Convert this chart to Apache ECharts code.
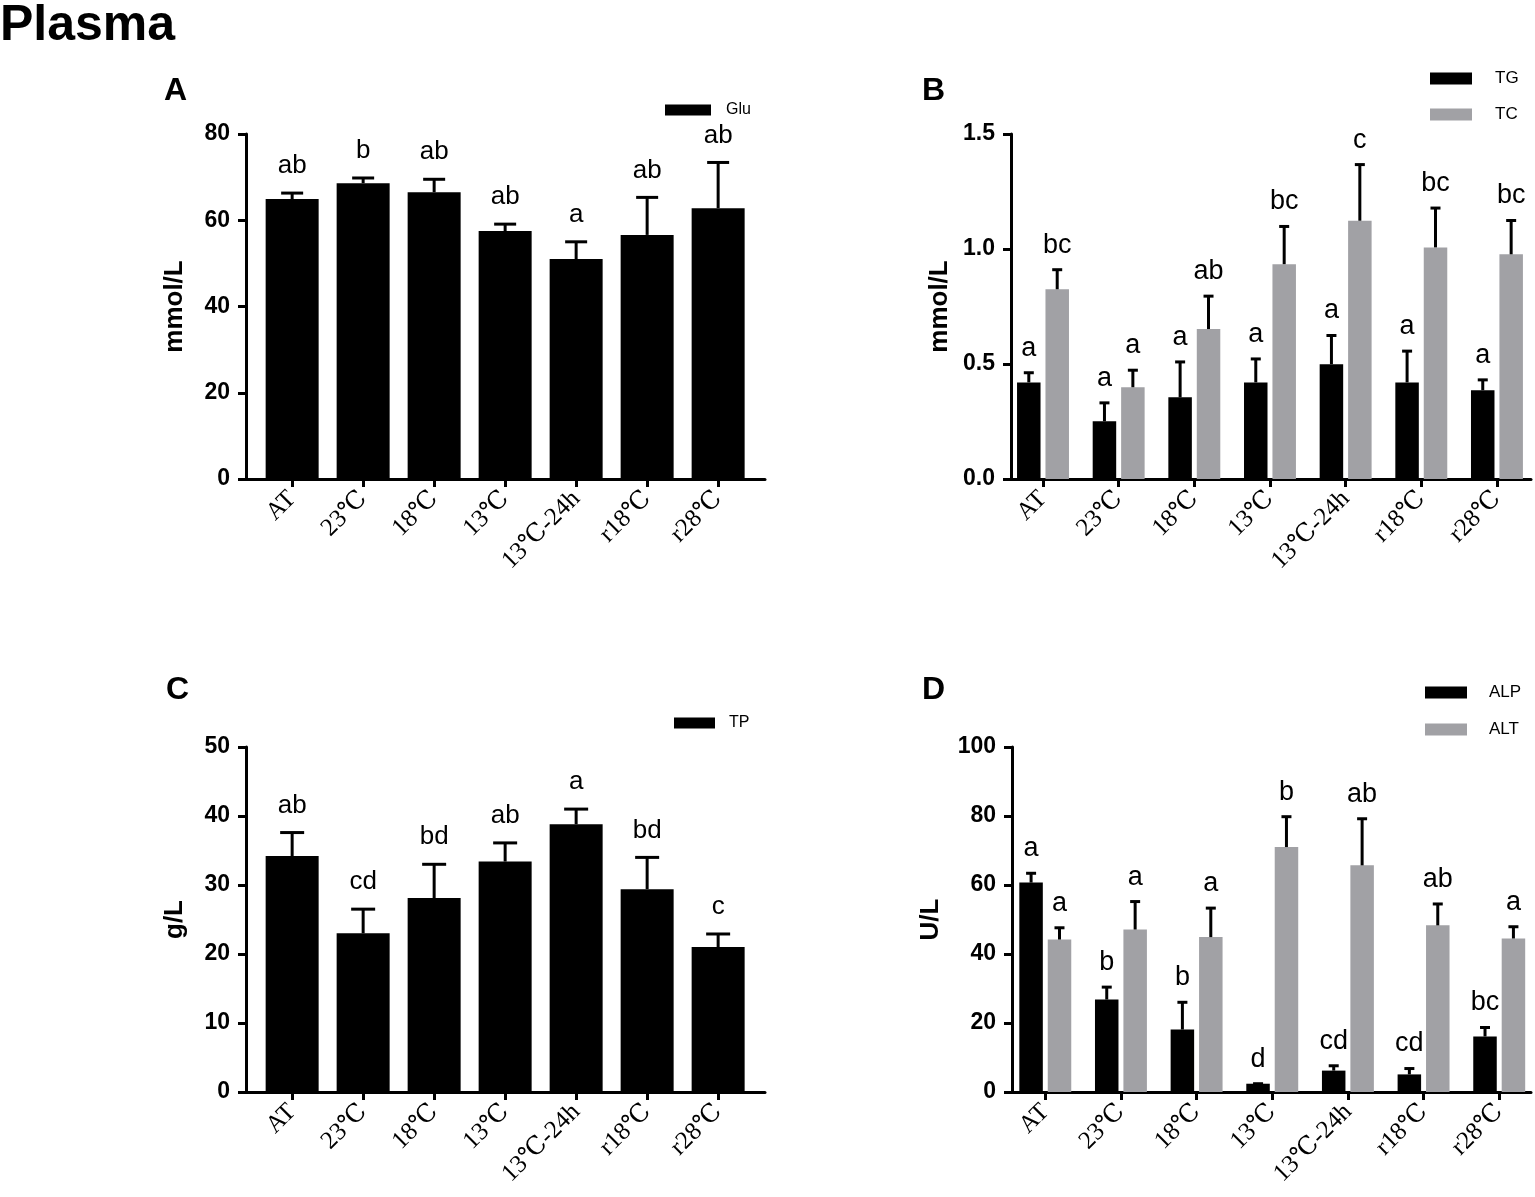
<!DOCTYPE html>
<html>
<head>
<meta charset="utf-8">
<script src="https://cdn.jsdelivr.net/npm/echarts@6/dist/echarts.min.js"></script>
<style>
html,body{margin:0;padding:0;background:#fff;}
#chart{width:1535px;height:1197px;}
</style>
</head>
<body>
<div id="chart"></div>
<script>
// ---- data ----
const categories = ['AT', '23℃', '18℃', '13℃', '13℃-24h', 'r18℃', 'r28℃'];

const gluMean = [64.9, 68.6, 66.5, 57.5, 51.0, 56.6, 62.8];
const gluSD   = [1.4, 1.2, 3.0, 1.6, 4.0, 8.7, 10.6];
const gluLabels = ['ab', 'b', 'ab', 'ab', 'a', 'ab', 'ab'];

const tgMean = [0.420, 0.251, 0.355, 0.420, 0.499, 0.420, 0.386];
const tgSD   = [0.042, 0.080, 0.154, 0.102, 0.125, 0.136, 0.045];
const tgLabels = ['a', 'a', 'a', 'a', 'a', 'a', 'a'];

const tcMean = [0.825, 0.399, 0.652, 0.934, 1.123, 1.007, 0.977];
const tcSD   = [0.085, 0.074, 0.143, 0.164, 0.244, 0.171, 0.147];
const tcLabels = ['bc', 'a', 'ab', 'bc', 'c', 'bc', 'bc'];

const tpMean = [34.2, 23.0, 28.1, 33.4, 38.8, 29.4, 21.0];
const tpSD   = [3.4, 3.5, 4.9, 2.7, 2.2, 4.6, 1.9];
const tpLabels = ['ab', 'cd', 'bd', 'ab', 'a', 'bd', 'c'];

const alpMean = [60.7, 26.8, 18.1, 2.4, 6.2, 5.1, 16.1];
const alpSD   = [2.7, 3.6, 7.9, 0.0, 1.4, 1.7, 2.6];
const alpLabels = ['a', 'b', 'b', 'd', 'cd', 'cd', 'bc'];

const altMean = [44.2, 47.1, 44.9, 71.0, 65.7, 48.3, 44.5];
const altSD   = [3.4, 8.1, 8.4, 8.8, 13.5, 6.2, 3.4];
const altLabels = ['a', 'a', 'a', 'b', 'ab', 'ab', 'a'];

// ---- styling ----
const SANS = 'Liberation Sans, Arial, Helvetica, sans-serif';
const SERIF = 'Liberation Serif, Times New Roman, DejaVu Serif, serif';
const GREY = '#a1a1a5';
const catIdx = categories.map((_, i) => i);

function xAxis(gridIndex, min, max) {
  return {
    type: 'value', gridIndex, min, max,
    axisLine: {show: true, onZero: false, lineStyle: {color: '#000', width: 3}},
    axisTick: {show: true, customValues: catIdx, length: 8, lineStyle: {color: '#000', width: 3}},
    axisLabel: {
      show: true, customValues: catIdx, formatter: v => categories[Math.round(v)],
      rotate: 45, margin: 16, fontFamily: SERIF, fontSize: 25, color: '#000'
    },
    splitLine: {show: false}
  };
}
function yAxis(gridIndex, max, interval, name, nameGap, digits) {
  return {
    type: 'value', gridIndex, min: 0, max, interval,
    name, nameLocation: 'middle', nameGap,
    nameTextStyle: {fontFamily: SANS, fontSize: 26, fontWeight: 'bold', color: '#000'},
    axisLine: {show: true, onZero: false, lineStyle: {color: '#000', width: 3}},
    axisTick: {show: true, length: 8, lineStyle: {color: '#000', width: 3}},
    axisLabel: {
      fontFamily: SANS, fontSize: 23, fontWeight: 'bold', color: '#000', margin: 16,
      formatter: v => v.toFixed(digits)
    },
    splitLine: {show: false}
  };
}
function barSeries(name, axis, means, color, barWidth) {
  return {
    type: 'bar', name, xAxisIndex: axis, yAxisIndex: axis,
    data: means.map((m, i) => [i, m]),
    barWidth, barGap: '21%',
    itemStyle: {color},
    emphasis: {disabled: true},
    z: 2
  };
}
function errSeries(name, axis, means, sds, labels, offset, capW, gap, fontSize) {
  return {
    type: 'custom', name, xAxisIndex: axis, yAxisIndex: axis,
    data: means.map((m, i) => [i, m, m + sds[i]]),
    z: 5, silent: true,
    renderItem: (params, api) => {
      const x = api.value(0), m = api.value(1), e = api.value(2);
      const p0 = api.coord([x, m]);
      const p1 = api.coord([x, e]);
      const cx = p0[0] + offset;
      return {
        type: 'group',
        children: [
          {type: 'line', shape: {x1: cx, y1: p0[1], x2: cx, y2: p1[1]}, style: {stroke: '#000', lineWidth: 3}},
          {type: 'line', shape: {x1: cx - capW / 2, y1: p1[1], x2: cx + capW / 2, y2: p1[1]}, style: {stroke: '#000', lineWidth: 3}},
          {type: 'text', x: cx, y: p1[1] - gap,
           style: {text: labels[params.dataIndex], fontFamily: SANS, fontSize, fill: '#000',
                   align: 'center', verticalAlign: 'bottom'}}
        ]
      };
    }
  };
}
function legend(names, left, top, w, h, gapY, fontSize, padLeft) {
  return {
    data: names, left, top, orient: 'vertical', padding: 0,
    itemWidth: w, itemHeight: h, itemGap: gapY, icon: 'rect', selectedMode: false,
    textStyle: {fontFamily: SANS, fontSize, color: '#000', lineHeight: h, padding: [0, 0, 0, padLeft]}
  };
}
function letter(text, left, top) {
  return {text, left, top, padding: 0,
    textStyle: {fontFamily: SANS, fontSize: 32, fontWeight: 'bold', color: '#000', lineHeight: 32}};
}

const chart = echarts.init(document.getElementById('chart'), null, {renderer: 'canvas'});
chart.setOption({
  animation: false,
  backgroundColor: '#fff',
  title: [
    {text: 'Plasma', left: 0, top: 1, padding: 0,
     textStyle: {fontFamily: SANS, fontSize: 50, fontWeight: 'bold', color: '#000', lineHeight: 50}},
    letter('A', 164, 75), letter('B', 922, 75), letter('C', 166, 674), letter('D', 922, 674)
  ],
  legend: [
    legend(['Glu'], 665, 102, 46, 11, 20, 16, 10),
    legend(['TG', 'TC'], 1430, 70, 42, 12, 19, 17, 18),
    legend(['TP'], 674, 715, 41, 11, 20, 16, 9),
    legend(['ALP', 'ALT'], 1425, 684, 42, 12, 20, 17, 17)
  ],
  grid: [
    {left: 246, top: 134, width: 519, height: 345},
    {left: 1011, top: 134, width: 520, height: 345},
    {left: 246, top: 747, width: 519, height: 345},
    {left: 1012, top: 747, width: 519, height: 345}
  ],
  xAxis: [
    xAxis(0, -0.65, 6.66),
    xAxis(1, -0.423, 6.45),
    xAxis(2, -0.65, 6.66),
    xAxis(3, -0.44, 6.42)
  ],
  yAxis: [
    yAxis(0, 80, 20, 'mmol/L', 58, 0),
    yAxis(1, 1.5, 0.5, 'mmol/L', 58, 1),
    yAxis(2, 50, 10, 'g/L', 58, 0),
    yAxis(3, 100, 20, 'U/L', 68, 0)
  ],
  series: [
    barSeries('Glu', 0, gluMean, '#000', 53),
    errSeries('Glu-err', 0, gluMean, gluSD, gluLabels, 0, 22, 14, 26),

    barSeries('TG', 1, tgMean, '#000', 23.5),
    barSeries('TC', 1, tcMean, GREY, 23.5),
    errSeries('TG-err', 1, tgMean, tgSD, tgLabels, -14.2, 10, 11, 27),
    errSeries('TC-err', 1, tcMean, tcSD, tcLabels, 14.2, 10, 11, 27),

    barSeries('TP', 2, tpMean, '#000', 53),
    errSeries('TP-err', 2, tpMean, tpSD, tpLabels, 0, 24, 14, 26),

    barSeries('ALP', 3, alpMean, '#000', 23.5),
    barSeries('ALT', 3, altMean, GREY, 23.5),
    errSeries('ALP-err', 3, alpMean, alpSD, alpLabels, -14.2, 10, 11, 27),
    errSeries('ALT-err', 3, altMean, altSD, altLabels, 14.2, 10, 11, 27)
  ]
});
</script>
</body>
</html>
